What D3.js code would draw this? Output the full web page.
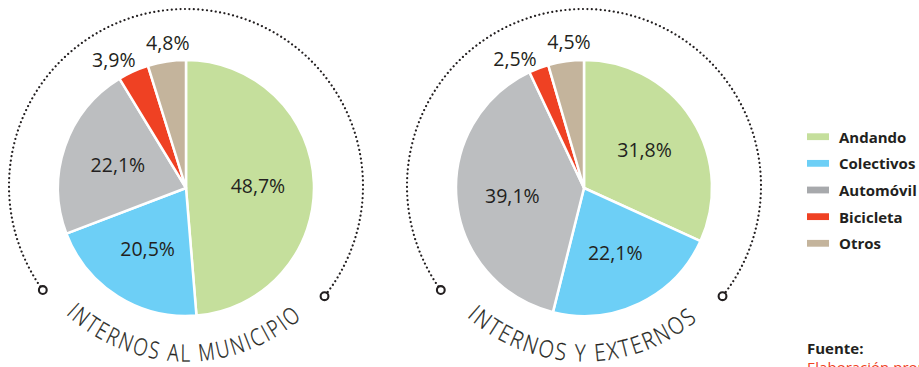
<!DOCTYPE html>
<html>
<head>
<meta charset="utf-8">
<script src="https://cdn.jsdelivr.net/npm/d3@7"></script>
<style>
  html, body { margin: 0; padding: 0; background: #ffffff; overflow: hidden; }
  svg { display: block; }
</style>
</head>
<body>
<svg id="chart" width="919" height="367"></svg>
<script>
// ---- data ----
const categories = ["Andando", "Colectivos", "Automóvil", "Bicicleta", "Otros"];
const internosMunicipio = [48.7, 20.5, 22.1, 3.9, 4.8];
const internosExternos = [31.8, 22.1, 39.1, 2.5, 4.5];
const chartTitles = ["INTERNOS AL MUNICIPIO", "INTERNOS Y EXTERNOS"];
const sourceLabel = "Fuente:";
const sourceText = "Elaboración propia";

// ---- styles ----
const pieColors = ["#c5df9c", "#6dcff6", "#bcbec0", "#ef4123", "#c4b49c"];
const legendColors = ["#c5df9c", "#6dcff6", "#a7a9ac", "#ef4123", "#c4b49c"];
const ink = "#231f20";
const font = "'Open Sans', sans-serif";

const svg = d3.select("#chart");
const locale = d3.formatLocale({decimal: ",", thousands: ".", grouping: [3], currency: ["", "€"]});
const fmt = v => locale.format(".1f")(v) + "%";

const pieR = 128, ringR = 177, titleR = 175.5, outR = 147;
const centers = d3.scalePoint().domain([0, 1]).range([186, 584]);
const cy = 188, ringCy = 186;
const rad = d => d * Math.PI / 180;

const pie = d3.pie().sort(null).value(d => d);
const arc = d3.arc().innerRadius(0).outerRadius(pieR);
const inLabelArc = d3.arc().innerRadius(72).outerRadius(72);

function curvedTitle(g, str, cx, cyy, R, midDeg, spanDeg, fontSize) {
  const weight = 300;
  const probe = g.append("text").attr("font-family", font).attr("font-weight", weight)
    .attr("font-size", fontSize).style("white-space", "pre").text(str);
  const node = probe.node();
  const adv = [];
  for (let k = 0; k < str.length; k++) adv.push(node.getSubStringLength(k, 1));
  probe.remove();
  const W = d3.sum(adv);
  const target = R * rad(spanDeg);
  const ls = 2.3;
  const sx = Math.min(1, (target - ls * (str.length - 1)) / W);
  const total = W * sx + ls * (str.length - 1);
  let pos = -total / 2;
  for (let k = 0; k < str.length; k++) {
    const w = adv[k] * sx;
    const c = pos + w / 2;
    pos += w + ls;
    if (str[k] === " ") continue;
    const th = rad(midDeg) - c / R;
    const x = cx + R * Math.cos(th), y = cyy + R * Math.sin(th);
    g.append("text")
      .attr("transform", `translate(${x},${y}) rotate(${th * 180 / Math.PI - 90}) scale(${sx},1)`)
      .attr("text-anchor", "middle")
      .attr("font-family", font).attr("font-weight", weight)
      .attr("font-size", fontSize).attr("fill", ink)
      .attr("stroke", ink).attr("stroke-width", 0.3)
      .text(str[k]);
  }
}

[internosMunicipio, internosExternos].forEach((values, i) => {
  const cx = centers(i);
  const g = svg.append("g");

  // dotted ring
  const ring = d3.path();
  ring.arc(cx, ringCy, ringR, rad(144), rad(38.5), false);
  g.append("path").attr("d", ring.toString())
    .attr("fill", "none").attr("stroke", ink).attr("stroke-width", 2.2)
    .attr("stroke-linecap", "round").attr("stroke-dasharray", "0.01 4.4");
  [144, 38.5].forEach(a => {
    g.append("circle")
      .attr("cx", cx + ringR * Math.cos(rad(a)))
      .attr("cy", ringCy + ringR * Math.sin(rad(a)))
      .attr("r", 3.9).attr("fill", "#fff").attr("stroke", ink).attr("stroke-width", 2.1);
  });

  // pie
  const arcs = pie(values);
  const pg = g.append("g").attr("transform", `translate(${cx},${cy})`);
  pg.selectAll("path").data(arcs).join("path")
    .attr("d", arc).attr("fill", (d, j) => pieColors[j])
    .attr("stroke", "#fff").attr("stroke-width", 2.5).attr("stroke-linejoin", "round");

  // labels
  const labels = arcs.map(d => {
    const mid = (d.startAngle + d.endAngle) / 2;
    if (d.value >= 10) {
      const [x, y] = inLabelArc.centroid(d);
      return {x, y, text: fmt(d.value), outside: false};
    }
    return {x: outR * Math.sin(mid), y: -outR * Math.cos(mid), text: fmt(d.value), outside: true};
  });
  const outs = labels.filter(l => l.outside);
  for (let k = outs.length - 2; k >= 0; k--) {
    const a = outs[k], b = outs[k + 1];
    const minDist = 54, gap = minDist - (b.x - a.x);
    if (gap > 0) {
      a.x -= gap * 0.75; b.x += gap * 0.25;
      a.y = -Math.sqrt(Math.max(0, outR * outR - a.x * a.x));
      b.y = -Math.sqrt(Math.max(0, outR * outR - b.x * b.x));
    }
  }
  pg.selectAll("text.lbl").data(labels).join("text")
    .attr("class", "lbl")
    .attr("x", d => d.x).attr("y", d => d.y)
    .attr("text-anchor", "middle").attr("dominant-baseline", "central")
    .attr("font-family", font).attr("font-size", 19.5)
    .attr("fill", ink).text(d => d.text);

  curvedTitle(g, chartTitles[i], cx, ringCy, titleR, i === 0 ? 91 : 90.9, i === 0 ? 84.4 : 82.1, 23.5);
});

// legend
const ly = d3.scalePoint().domain(categories).range([136.7, 243.3]);
const lg = svg.append("g");
lg.selectAll("rect").data(categories).join("rect")
  .attr("x", 807).attr("y", d => ly(d) - 3.4).attr("width", 22).attr("height", 6.8)
  .attr("fill", (d, j) => legendColors[j]);
lg.selectAll("text").data(categories).join("text")
  .attr("x", 839).attr("y", d => ly(d)).attr("dominant-baseline", "central")
  .attr("font-family", font).attr("font-weight", 700)
  .attr("font-size", 15).attr("fill", ink).text(d => d);

svg.append("text").attr("x", 807).attr("y", 354)
  .attr("font-family", font).attr("font-weight", 700)
  .attr("font-size", 15).attr("fill", ink).text(sourceLabel);
svg.append("text").attr("x", 807).attr("y", 373)
  .attr("font-family", font).attr("font-weight", 400)
  .attr("font-size", 15).attr("fill", "#ef4123").text(sourceText);
</script>
</body>
</html>
